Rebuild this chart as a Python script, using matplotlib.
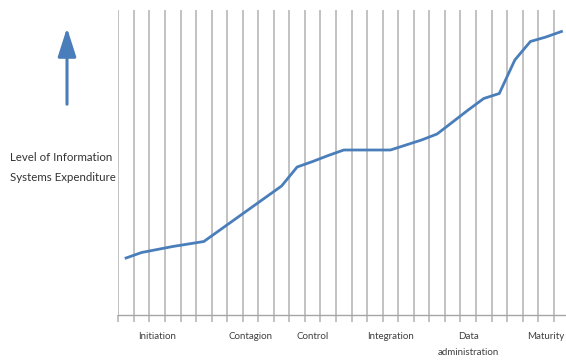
import matplotlib
matplotlib.use("Agg")
import matplotlib.pyplot as plt
from matplotlib.patches import FancyArrowPatch

# Expenditure level over the stage model (arbitrary units)
expenditure = [57, 62.5, 65.5, 68.5, 71, 73.5, 84.6, 95.7, 106.8, 117.9,
               129, 148, 153.5, 159.5, 165, 165, 165, 165, 170, 175,
               181, 193, 205, 216.5, 221.5, 255, 273.5, 278, 283.5]

# Stage names shown under the axis; other categories stay unlabeled
stage_labels = {2: "Initiation", 8: "Contagion", 12: "Control",
                17: "Integration", 22: "Data\nadministration", 27: "Maturity"}

n_cat = len(expenditure)
W, H = 566, 360
fig = plt.figure(figsize=(W / 100, H / 100), dpi=100)

left_px, right_px, top_px, bottom_px = 118.3, 118.3 + n_cat * 15.55, 10, 315
ax = fig.add_axes([left_px / W, 1 - bottom_px / H,
                   (right_px - left_px) / W, (bottom_px - top_px) / H])

xs = [i + 0.5 for i in range(n_cat)]
ax.plot(xs, expenditure, color="#4A7EBB", lw=2.0, solid_joinstyle="round", zorder=3)

ax.set_xlim(0, n_cat)
ax.set_ylim(0, 305)

for spine in ("top", "right", "left"):
    ax.spines[spine].set_visible(False)
ax.spines["bottom"].set_color("#a6a6a6")
ax.spines["bottom"].set_linewidth(1.0)

ax.set_xticks(range(n_cat + 1))
ax.set_xticklabels([])
ax.tick_params(axis="x", direction="out", length=5, width=1.2, color="#b8b8b8")
ax.set_yticks([])
ax.grid(axis="x", color="#bdbdbd", lw=1.3)
ax.set_axisbelow(True)

for i, name in stage_labels.items():
    ax.text(i + 0.5, -17, name, ha="center", va="top", fontsize=7,
            family="Lato", color="#404040", linespacing=2.0, clip_on=False)

fig.text(10 / W, 1 - 167.5 / H, "Level of Information\nSystems Expenditure",
         ha="left", va="center", fontsize=8.3, family="Lato", color="#333333",
         linespacing=2.0)

arrow = FancyArrowPatch((67 / W, 1 - 107 / H), (67 / W, 1 - 25 / H),
                        transform=fig.transFigure,
                        arrowstyle="-|>,head_length=11,head_width=3.5",
                        color="#4A7EBB", lw=2.2, mutation_scale=1.6)
fig.add_artist(arrow)

fig.savefig("out.png", dpi=100, facecolor="white")
